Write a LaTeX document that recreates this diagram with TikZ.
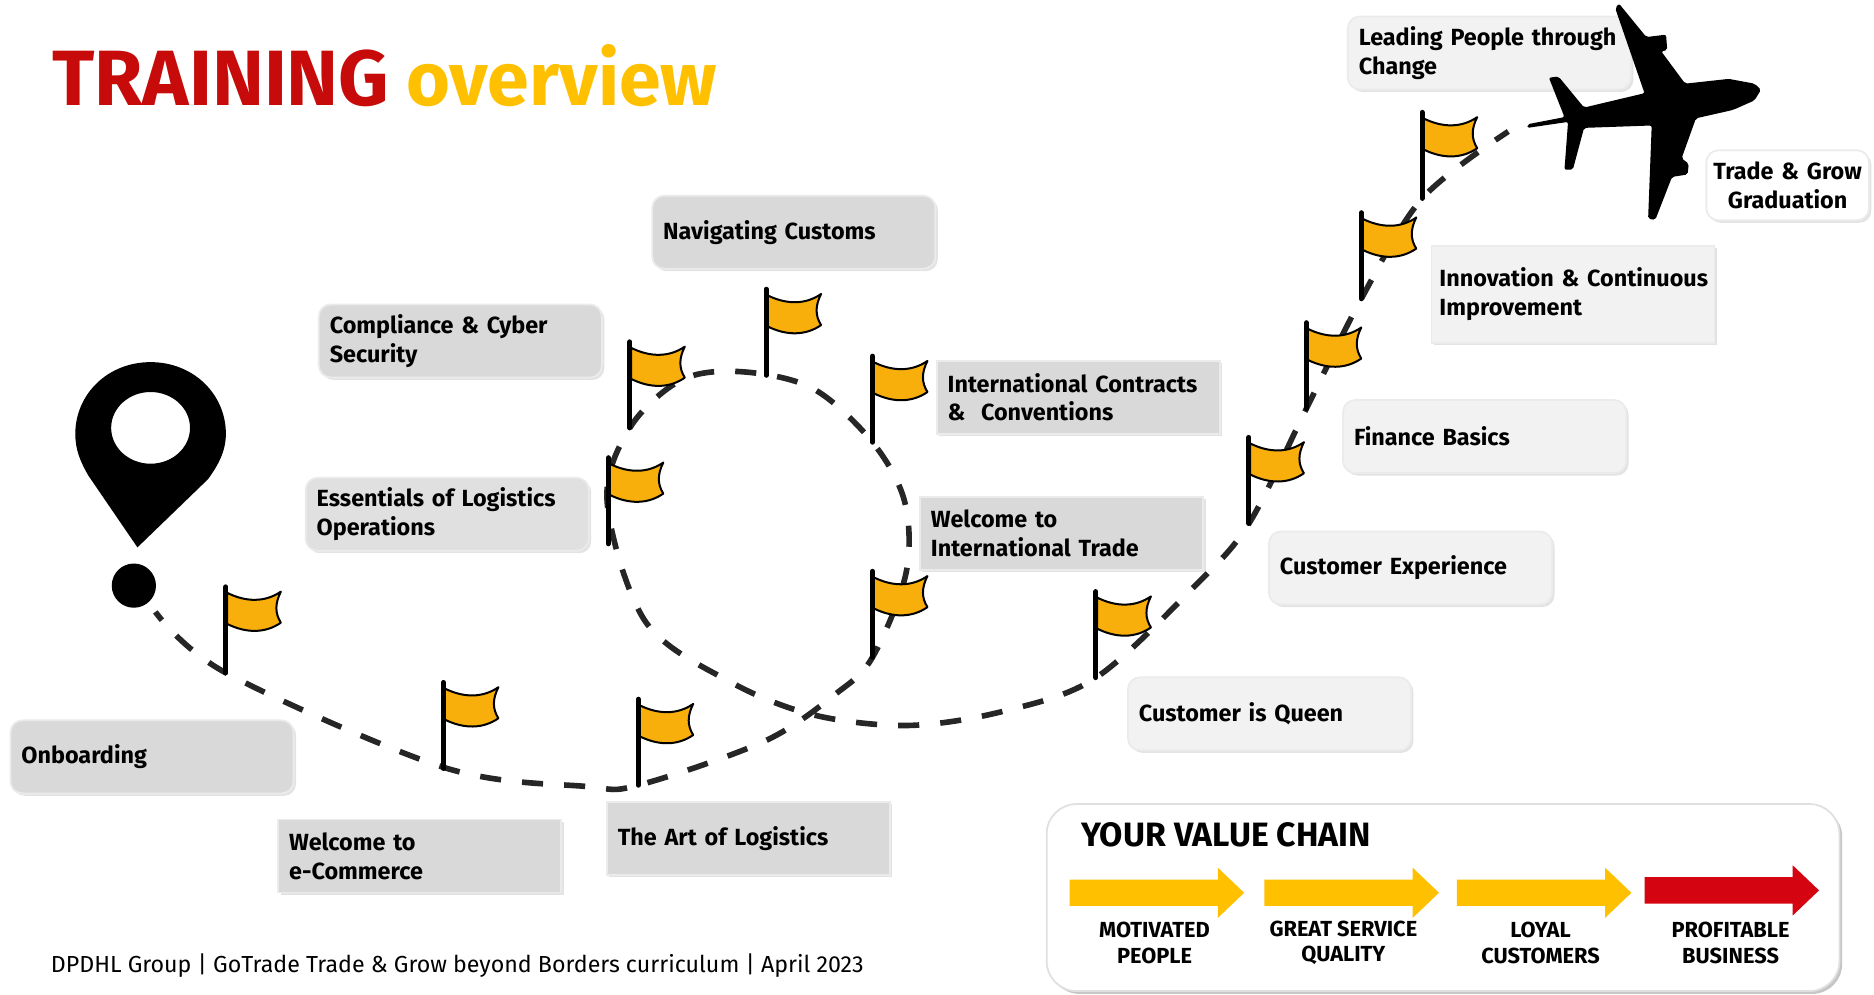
\documentclass[tikz,border=0pt]{standalone}
\usepackage{fontspec}
\setmainfont{Fira Sans}
\usetikzlibrary{shadows}

\definecolor{flagyellow}{HTML}{F8AE0B}
\definecolor{dhlyellow}{HTML}{FFC000}
\definecolor{dhlred}{HTML}{D40511}
\definecolor{titlered}{HTML}{C70A0A}

\tikzset{
  stepbox/.style={anchor=north west, draw=black!8, line width=0.5pt, text=black,
    minimum width=2.83cm, minimum height=0.73cm, inner xsep=0.11cm, inner ysep=0pt,
    text width=2.61cm, align=left, font=\fontsize{6.65}{8.2}\selectfont\bfseries,
    drop shadow={shadow xshift=0.7pt, shadow yshift=-0.7pt, opacity=0.22}},
  greybox/.style={stepbox, fill=black!15, rounded corners=0.12cm},
  greysquare/.style={stepbox, fill=black!15},
  lightbox/.style={stepbox, fill=black!5, rounded corners=0.12cm},
  lightsquare/.style={stepbox, fill=black!5},
  flightpath/.style={line width=1.6pt, black!85, dash pattern=on 6pt off 6pt, dash phase=3pt},
  chainlabel/.style={align=center, font=\fontsize{6.2}{7.2}\selectfont\bfseries},
  flagpic/.pic={
    \draw[line width=0.2mm, fill=flagyellow, line join=round] (1,-67)
      .. controls (17,-59) and (33,-59) .. (46,-68)
      .. controls (41,-58) and (41,-50) .. (46,-42)
      .. controls (33,-33) and (17,-33) .. (1,-41) -- cycle;
    \draw[line width=0.5mm, line cap=round] (0,0) -- (0,-72);
  },
  chainarrow/.pic={
    \fill[pic actions] (0,-11) -- (124,-11) -- (124,-21) -- (146,0)
      -- (124,21) -- (124,11) -- (0,11) -- cycle;
  }
}

\begin{document}
\begin{tikzpicture}[x=0.01195cm, y=-0.01195cm]
 \useasboundingbox (0,0) rectangle (1568,832);

 % flag positions
 \coordinate (flagA) at (189,563);
 \coordinate (flagB) at (371,643);
 \coordinate (flagC) at (534,657);
 \coordinate (flagD) at (730,550);
 \coordinate (flagE) at (730,370);
 \coordinate (flagF) at (641,314);
 \coordinate (flagG) at (527,358);
 \coordinate (flagH) at (509,455);
 \coordinate (flagI) at (917,567);
 \coordinate (flagJ) at (1045,438);
 \coordinate (flagK) at (1093,342);
 \coordinate (flagL) at (1139,250);
 \coordinate (flagM) at (1190,166);

 % route
 \draw[flightpath] plot[smooth, tension=0.55] coordinates {
   (130,512) (flagA) (371,642) (490,658) (flagC) (640,620) (700,580) (flagD)
   (758,480) (757,420) (flagE) (680,325) (620,311) (570,318) (flagG) (508,420)
   (540,520) (610,570) (680,598) (760,607) (840,595) (flagI) (1000,490)
   (flagJ) (flagK) (flagL) (flagM) (1262,110)};

 % title
 \node[anchor=base west, inner sep=0pt, font=\bfseries] (title) at (43,88)
   {\fontsize{22.3}{24}\selectfont\textcolor{titlered}{TRAINING}\hspace{4.8pt}\fontsize{21.4}{24}\selectfont\textcolor{dhlyellow}{overview}};

 % steps
 \node[greybox] (customs) at (545,163) {Navigating Customs};
 \node[greybox] (compliance) at (266,254) {Compliance \& Cyber\\Security};
 \node[greysquare] (contracts) at (783,301) {International Contracts\\\& ~Conventions};
 \node[greybox, fill=black!12] (essentials) at (255,399) {Essentials of Logistics\\Operations};
 \node[greysquare] (trade) at (769,415) {Welcome to\\International Trade};
 \node[greybox] (onboarding) at (8,602) {Onboarding};
 \node[greysquare] (ecommerce) at (232,685) {Welcome to\\e-Commerce};
 \node[greysquare] (art) at (507,670) {The Art of Logistics};
 \node[lightbox] (queen) at (943,566) {Customer is Queen};
 \node[lightbox] (experience) at (1061,444) {Customer Experience};
 \node[lightbox] (finance) at (1123,334) {Finance Basics};
 \node[lightsquare, minimum height=0.97cm, inner xsep=0.08cm, text width=2.67cm] (innovation) at (1197,205) {\mbox{Innovation \& Continuous}\\Improvement};
 \node[lightbox] (leading) at (1127,13) {Leading People through\\Change};
 \node[lightbox, fill=white, minimum width=1.625cm, text width=1.6cm, inner xsep=0.01cm,
   minimum height=0.7cm, align=center] (graduation) at (1427,125) {Trade \& Grow\\Graduation};

 % flags
 \foreach \flag in {flagA,flagB,flagC,flagD,flagE,flagF,flagG,flagH,flagI,flagJ,flagK,flagL,flagM}
   \pic at (\flag) {flagpic};

 % start pin
 \fill[black, even odd rule] (115,458) -- (74,398) .. controls (67,386) and (63,376) .. (63,363)
   .. controls (63,330) and (90,303) .. (126,303)
   .. controls (162,303) and (189,330) .. (189,363)
   .. controls (189,378) and (182,390) .. (174,401) -- (115,458) -- cycle
   (126,358) ellipse [x radius=33, y radius=30];
 \fill[black] (112,490) circle [radius=18.5];

 % plane
 \fill[black, rounded corners=0.02cm] (1354.6,3) -- (1377.5,31) -- (1394,29) -- (1395,42) -- (1390,43)
   -- (1410,70) -- (1446.5,66) -- (1468,70) -- (1473.5,75) -- (1468,84) -- (1450,92)
   -- (1419,99) -- (1407,132.5) -- (1413,137) -- (1412,146) -- (1399,148) -- (1385,184)
   -- (1379,183) -- (1382,105) -- (1325.4,107) -- (1316,142) -- (1309,142) -- (1312,102)
   -- (1278,107) -- (1278,104) -- (1309,98) -- (1296,65) -- (1304,64) -- (1325.4,90)
   -- (1376,78) -- (1351.5,7) -- cycle;

 % value chain
 \node[anchor=north west, fill=white, draw=black!12, line width=0.5pt, rounded corners=0.3cm,
   minimum width=7.925cm, minimum height=1.87cm,
   drop shadow={shadow xshift=0.8pt, shadow yshift=-0.8pt, opacity=0.45}] (chain) at (875,672) {};
 \node[anchor=base west, inner sep=0pt, font=\fontsize{9.6}{11}\selectfont\bfseries] (chaintitle)
   at (904,708) {YOUR VALUE CHAIN};

 \pic[fill=dhlyellow] at (895,747) {chainarrow};
 \pic[fill=dhlyellow] at (1058,747) {chainarrow};
 \pic[fill=dhlyellow] at (1219,747) {chainarrow};
 \pic[fill=dhlred] at (1376,745) {chainarrow};

 \node[chainlabel] (motivated) at (966,789) {MOTIVATED\\PEOPLE};
 \node[chainlabel] (service) at (1124,789) {GREAT SERVICE\\QUALITY};
 \node[chainlabel] (loyal) at (1289,789) {LOYAL\\CUSTOMERS};
 \node[chainlabel] (profitable) at (1448,789) {PROFITABLE\\BUSINESS};

 % footer
 \node[anchor=base west, inner sep=0pt, font=\fontsize{6.6}{8}\selectfont] (footer) at (42,814)
   {DPDHL Group | GoTrade Trade \& Grow beyond Borders curriculum | April 2023};
\end{tikzpicture}
\end{document}
